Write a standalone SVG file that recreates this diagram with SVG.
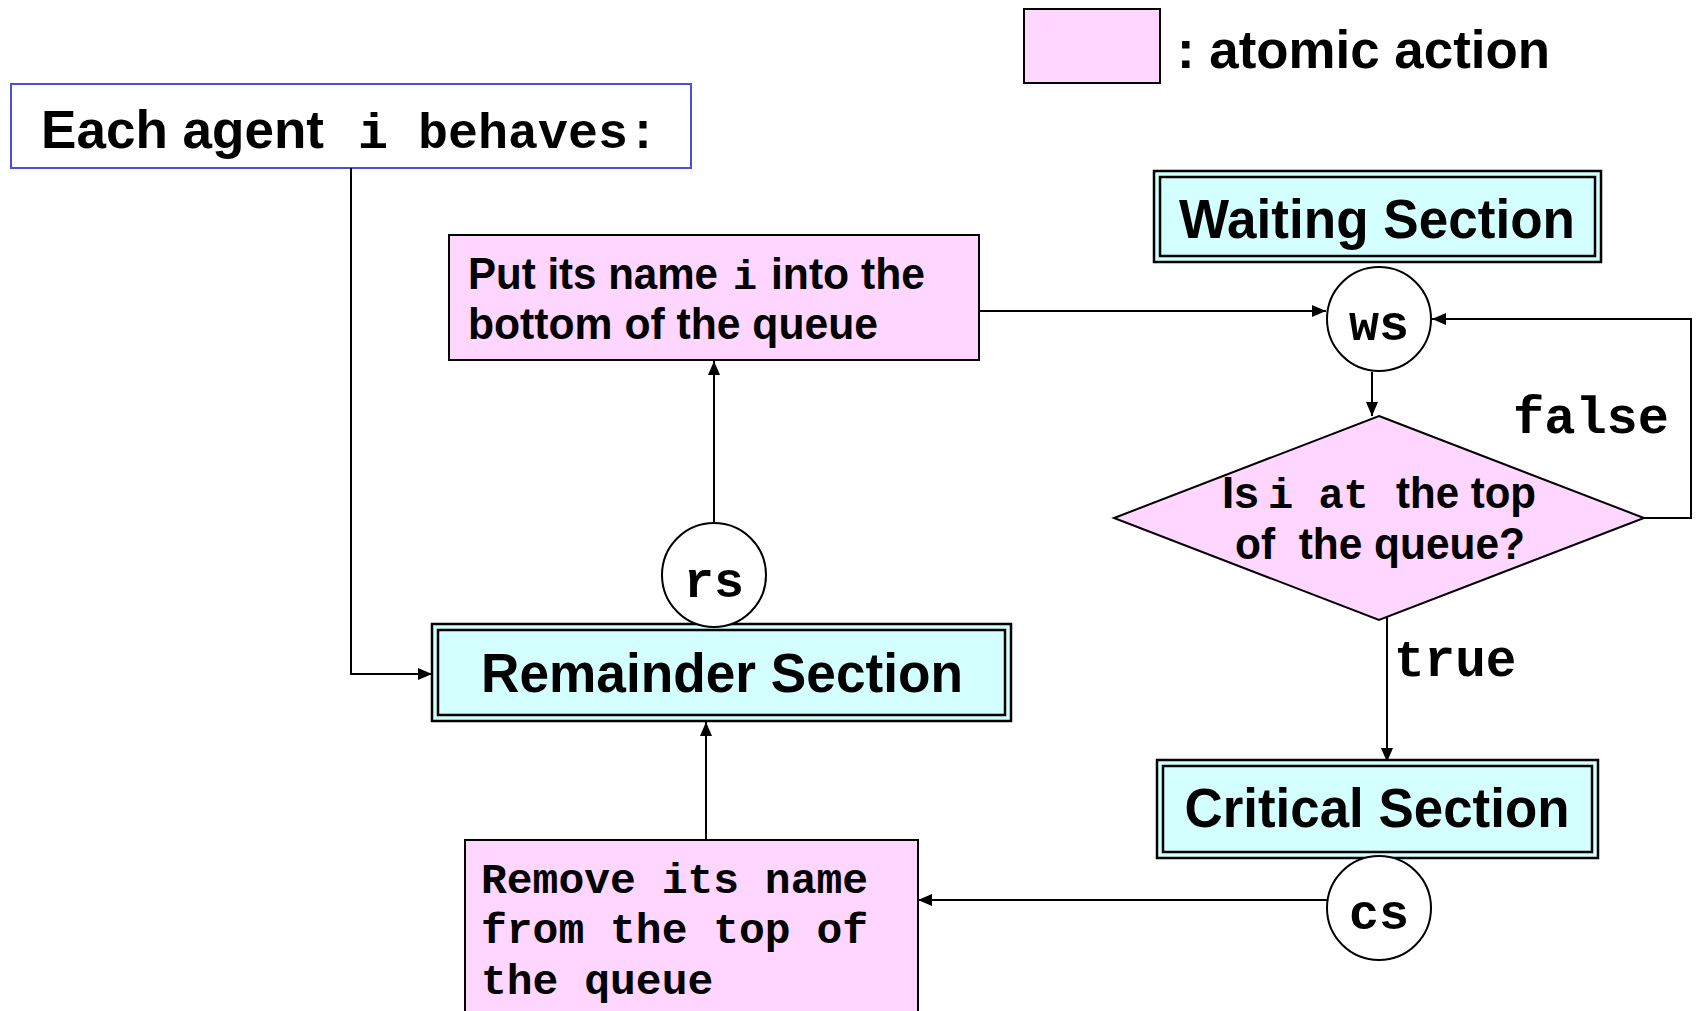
<svg xmlns="http://www.w3.org/2000/svg" width="1696" height="1011" viewBox="0 0 1696 1011">
  <style>
    .sans { font-family: "Liberation Sans", Arial, sans-serif; font-weight: bold; fill: #000; }
    .mono { font-family: "Liberation Mono", "Courier New", monospace; font-weight: bold; fill: #000; }
    .atomic { fill: #ffd6ff; stroke: #000; stroke-width: 2; }
    .section-outer { fill: #d4ffff; stroke: #000; stroke-width: 2.5; }
    .section-inner { fill: none; stroke: #000; stroke-width: 2.5; }
    .state { fill: #fff; stroke: #000; stroke-width: 2; }
    .edge { fill: none; stroke: #000; stroke-width: 2; }
  </style>
  <defs>
    <marker id="arrow" viewBox="0 0 14 12" refX="14" refY="6" markerWidth="14" markerHeight="12" markerUnits="userSpaceOnUse" orient="auto">
      <path d="M0,0 L14,6 L0,12 Z" fill="#000"/>
    </marker>
  </defs>
  <rect width="1696" height="1011" fill="#fff"/>

  <!-- legend -->
  <g id="legend">
    <rect class="atomic" x="1024" y="9" width="136" height="74"/>
    <text class="sans" x="1177" y="68" font-size="54" textLength="373" lengthAdjust="spacingAndGlyphs">: atomic action</text>
  </g>

  <!-- title box -->
  <g id="title">
    <rect x="11" y="84" width="680" height="84" fill="#fff" stroke="#4d4ddb" stroke-width="2"/>
    <text class="sans" x="41" y="148" font-size="54" textLength="283" lengthAdjust="spacingAndGlyphs">Each agent</text>
    <text class="mono" x="358" y="148" font-size="50" xml:space="preserve">i behaves:</text>
  </g>

  <!-- connectors -->
  <g id="connectors">
    <polyline class="edge" points="351,168 351,674 432,674" marker-end="url(#arrow)"/>
    <line class="edge" x1="714" y1="523" x2="714" y2="361" marker-end="url(#arrow)"/>
    <line class="edge" x1="979" y1="311" x2="1326" y2="311" marker-end="url(#arrow)"/>
    <line class="edge" x1="1372" y1="372" x2="1372" y2="416" marker-end="url(#arrow)"/>
    <polyline class="edge" points="1644,518 1691,518 1691,319 1432,319" marker-end="url(#arrow)"/>
    <line class="edge" x1="1387" y1="614" x2="1387" y2="762" marker-end="url(#arrow)"/>
    <line class="edge" x1="1327" y1="900" x2="918" y2="900" marker-end="url(#arrow)"/>
    <line class="edge" x1="706" y1="840" x2="706" y2="722" marker-end="url(#arrow)"/>
    <text class="mono" x="1513" y="433" font-size="52">false</text>
    <text class="mono" x="1394" y="676" font-size="51">true</text>
  </g>

  <!-- enqueue -->
  <g id="enqueue">
    <rect class="atomic" x="449" y="235" width="530" height="125"/>
    <text class="sans" x="468" y="289" font-size="45" textLength="250" lengthAdjust="spacingAndGlyphs">Put its name</text>
    <text class="mono" x="733" y="289" font-size="40">i</text>
    <text class="sans" x="771" y="289" font-size="45" textLength="154" lengthAdjust="spacingAndGlyphs">into the</text>
    <text class="sans" x="468" y="339" font-size="45" textLength="410" lengthAdjust="spacingAndGlyphs">bottom of the queue</text>
  </g>

  <!-- waiting section -->
  <g id="waiting">
    <rect class="section-outer" x="1154" y="171" width="447" height="91"/>
    <rect class="section-inner" x="1160" y="177" width="435" height="79"/>
    <text class="sans" x="1377" y="238" font-size="56" text-anchor="middle" textLength="396" lengthAdjust="spacingAndGlyphs">Waiting Section</text>
  </g>

  <!-- ws state -->
  <g id="ws">
    <circle class="state" cx="1379" cy="319" r="52"/>
    <text class="mono" x="1379" y="340" font-size="50" text-anchor="middle">ws</text>
  </g>

  <!-- decision -->
  <g id="decision">
    <polygon class="atomic" points="1379,416 1644,518 1379,620 1114,518"/>
    <text class="sans" x="1222" y="508" font-size="44">Is</text>
    <text class="mono" x="1268" y="508" font-size="42" xml:space="preserve">i at</text>
    <text class="sans" x="1396" y="508" font-size="44" textLength="140" lengthAdjust="spacingAndGlyphs">the top</text>
    <text class="sans" x="1235" y="559" font-size="44" textLength="290" lengthAdjust="spacingAndGlyphs" xml:space="preserve">of  the queue?</text>
  </g>

  <!-- critical section -->
  <g id="critical">
    <rect class="section-outer" x="1157" y="760" width="441" height="98"/>
    <rect class="section-inner" x="1163" y="766" width="429" height="86"/>
    <text class="sans" x="1377" y="827" font-size="56" text-anchor="middle" textLength="385" lengthAdjust="spacingAndGlyphs">Critical Section</text>
  </g>

  <!-- cs state -->
  <g id="cs">
    <circle class="state" cx="1379" cy="908" r="52"/>
    <text class="mono" x="1379" y="929" font-size="50" text-anchor="middle">cs</text>
  </g>

  <!-- dequeue -->
  <g id="dequeue">
    <rect class="atomic" x="465" y="840" width="453" height="180"/>
    <text class="mono" x="481" y="893" font-size="43">Remove its name</text>
    <text class="mono" x="481" y="943" font-size="43">from the top of</text>
    <text class="mono" x="481" y="994" font-size="43">the queue</text>
  </g>

  <!-- remainder section -->
  <g id="remainder">
    <rect class="section-outer" x="432" y="624" width="579" height="97"/>
    <rect class="section-inner" x="438" y="630" width="567" height="85"/>
    <text class="sans" x="722" y="692" font-size="56" text-anchor="middle" textLength="482" lengthAdjust="spacingAndGlyphs">Remainder Section</text>
  </g>

  <!-- rs state -->
  <g id="rs">
    <circle class="state" cx="714" cy="575" r="52"/>
    <text class="mono" x="714" y="597" font-size="50" text-anchor="middle">rs</text>
  </g>
</svg>
